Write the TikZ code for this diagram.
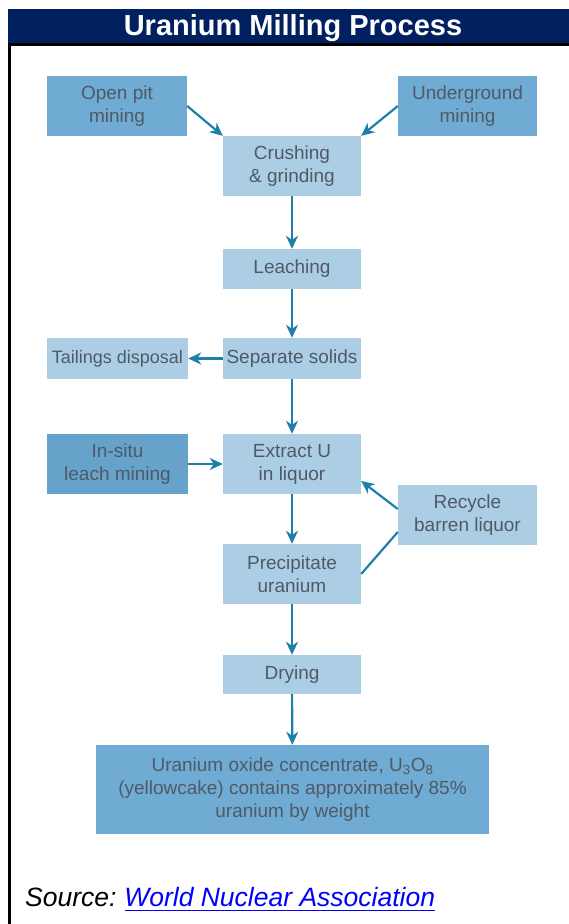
\documentclass[tikz,border=0pt]{standalone}
\usepackage{fontspec}
\setmainfont{Liberation Sans}
\usetikzlibrary{arrows.meta,calc}
\definecolor{navy}{RGB}{0,32,96}
\definecolor{darkbox}{RGB}{112,171,211}
\definecolor{insitubox}{RGB}{102,162,202}
\definecolor{lightbox}{RGB}{172,206,229}
\definecolor{boxtext}{RGB}{78,90,102}
\definecolor{arrowc}{RGB}{30,128,170}
\definecolor{linkblue}{RGB}{0,0,255}
\tikzset{
  box/.style={inner sep=0pt, align=center, text=boxtext,
    font=\fontsize{19}{23}\selectfont},
  darkb/.style={box, fill=darkbox},
  lightb/.style={box, fill=lightbox},
  flow/.style={draw=arrowc, line width=2.2pt, -{Stealth[length=13pt,width=12pt,inset=4pt]}},
  plain/.style={draw=arrowc, line width=2.2pt},
  txt/.style={inner sep=0pt}
}
\begin{document}
\begin{tikzpicture}[x=1pt,y=-1pt]
\useasboundingbox (0,0) rectangle (569,924);
% frame
\fill[navy] (8,9) rectangle (569,43);
\fill[black] (8,43) rectangle (569,45.5);
\fill[black] (8,43) rectangle (11,924);
\node[txt, anchor=base, text=white, font=\fontsize{29}{32}\selectfont\bfseries] (title) at (293,35) {Uranium Milling Process};
% boxes
\node[darkb, minimum width=140pt, minimum height=60pt] (open) at (117,106) {Open pit\\mining};
\node[darkb, minimum width=139pt, minimum height=60pt] (under) at (467.5,106) {Underground\\mining};
\node[lightb, minimum width=138pt, minimum height=60pt] (crush) at (292,166) {Crushing\\\& grinding};
\node[lightb, minimum width=138pt, minimum height=40pt] (leach) at (292,269) {Leaching};
\node[lightb, minimum width=138pt, minimum height=41pt] (sep) at (292,358.5) {Separate solids};
\node[lightb, minimum width=141pt, minimum height=41pt, font=\fontsize{18}{22}\selectfont] (tail) at (117.5,358.5) {Tailings disposal};
\node[lightb, minimum width=138pt, minimum height=60pt] (extract) at (292,464) {Extract U\\in liquor};
\node[box, fill=insitubox, minimum width=141pt, minimum height=60pt] (insitu) at (117.5,464) {In-situ\\leach mining};
\node[lightb, minimum width=139pt, minimum height=60pt] (recycle) at (467.5,515) {Recycle\\barren liquor};
\node[lightb, minimum width=138pt, minimum height=60pt] (precip) at (292,574) {Precipitate\\uranium};
\node[lightb, minimum width=138pt, minimum height=39pt] (dry) at (292,674.5) {Drying};
\node[darkb, minimum width=393pt, minimum height=89pt] (oxide) at (292.5,789.5) {Uranium oxide concentrate, U\textsubscript{3}O\textsubscript{8}\\(yellowcake) contains approximately 85\%\\uranium by weight};
% connectors
\draw[flow] (open.east) -- (crush.north west);
\draw[flow] (under.west) -- (crush.north east);
\draw[flow] (crush) -- (leach);
\draw[flow] (leach) -- (sep);
\draw[flow] (sep) -- (tail);
\draw[flow] (sep) -- (extract);
\draw[flow] (insitu) -- (extract);
\draw[flow] (extract) -- (precip);
\draw[flow] ($(recycle.west)+(0,-6)$) -- ($(extract.east)+(0,17)$);
\draw[plain] (precip.east) -- ($(recycle.west)+(0,17)$);
\draw[flow] (precip) -- (dry);
\draw[flow] (dry) -- (oxide);
% source
\node[txt, anchor=base west, font=\fontsize{26.5}{30}\selectfont\itshape] (src) at (25,906) {Source:};
\node[txt, anchor=base west, text=linkblue, font=\fontsize{26.5}{30}\selectfont\itshape] (link) at ($(src.base east)+(7.4,0)$) {World Nuclear Association};
\draw[linkblue, line width=1.8pt] ($(link.base west)+(1,4.5)$) -- ($(link.base east)+(0,4.5)$);
\end{tikzpicture}
\end{document}
